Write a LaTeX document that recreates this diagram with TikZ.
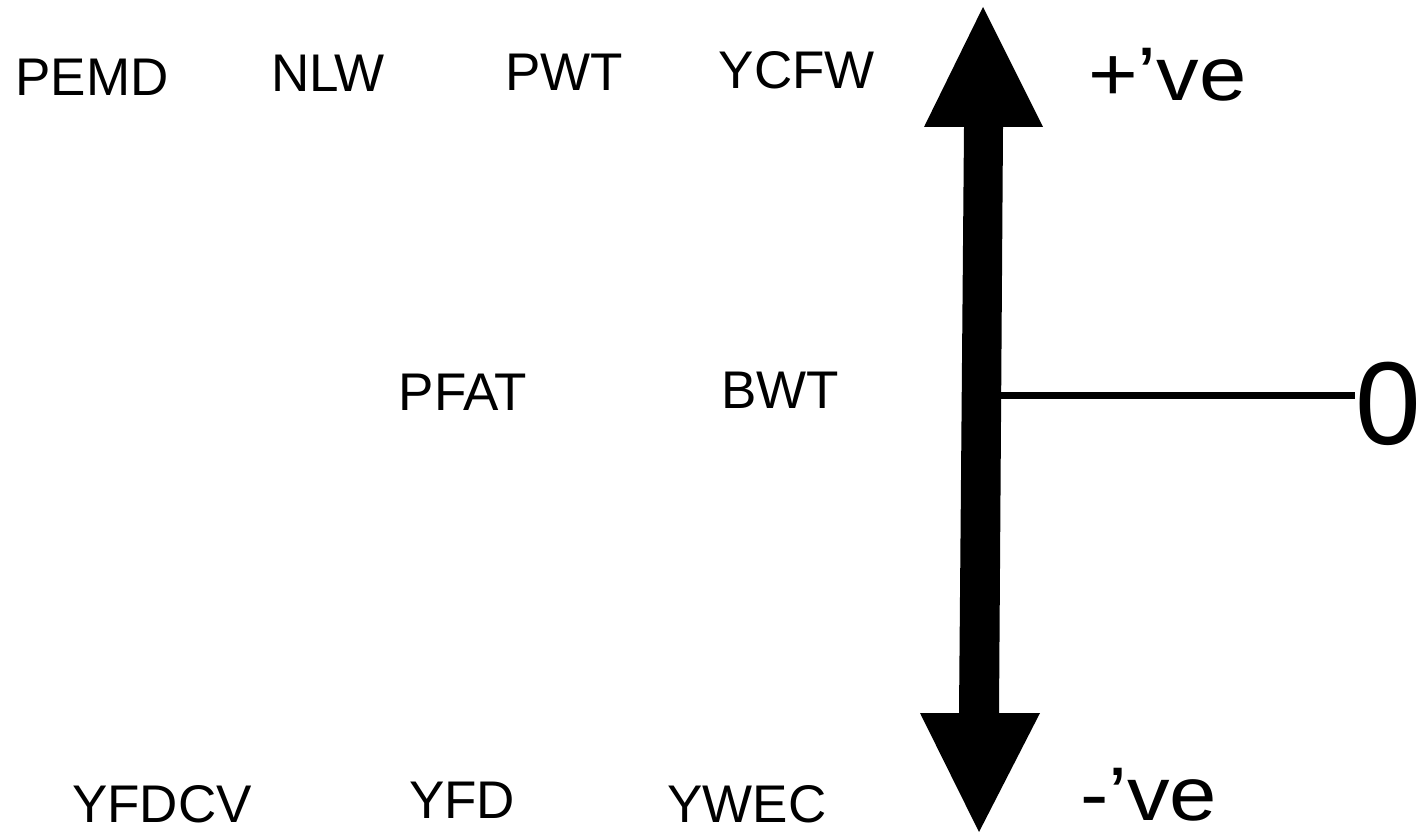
\documentclass[tikz,border=0pt]{standalone}
\usepackage{fontspec}
\setmainfont{Liberation Sans}
\begin{document}
\begin{tikzpicture}[x=1pt,y=-1pt,
  lbl/.style={inner sep=0pt,outer sep=0pt,anchor=center,font=\fontsize{53}{60}\selectfont},
  sign/.style={inner sep=0pt,outer sep=0pt,anchor=base west,font=\fontsize{76}{84}\selectfont},
  zero/.style={inner sep=0pt,outer sep=0pt,anchor=center,font=\fontsize{118}{130}\selectfont}]
\useasboundingbox (0,0) rectangle (1421,832);
% labels
\node[lbl] (pemd) at (92,77) {PEMD};
\node[lbl] (nlw) at (328,73) {NLW};
\node[lbl] (pwt) at (564,72) {PWT};
\node[lbl] (ycfw) at (797,70) {YCFW};
\node[lbl] (pfat) at (463,392) {PFAT};
\node[lbl] (bwt) at (780,390) {BWT};
\node[lbl] (yfdcv) at (162,804) {YFDCV};
\node[lbl] (yfd) at (462,800) {YFD};
\node[lbl] (ywec) at (747,804) {YWEC};
\node[sign] (pos) at (1088,101) {\scalebox{1.12}[1]{+’ve}};
\node[sign] (neg) at (1080,820) {\scalebox{1.12}[1]{-’ve}};
\node[zero] (zero) at (1388,404) {0};
% double arrow
\coordinate (toptip) at (983,7);
\coordinate (botip) at (979,832);
\fill (toptip) -- (1043,127) -- (1003,127) -- (999,713) -- (1040,713) -- (botip)
  -- (920,713) -- (959,713) -- (964,127) -- (924,127) -- cycle;
\coordinate (mid) at (1000,395);
\draw[line width=7pt] (mid) -- (mid -| zero.west);
\end{tikzpicture}
\end{document}
